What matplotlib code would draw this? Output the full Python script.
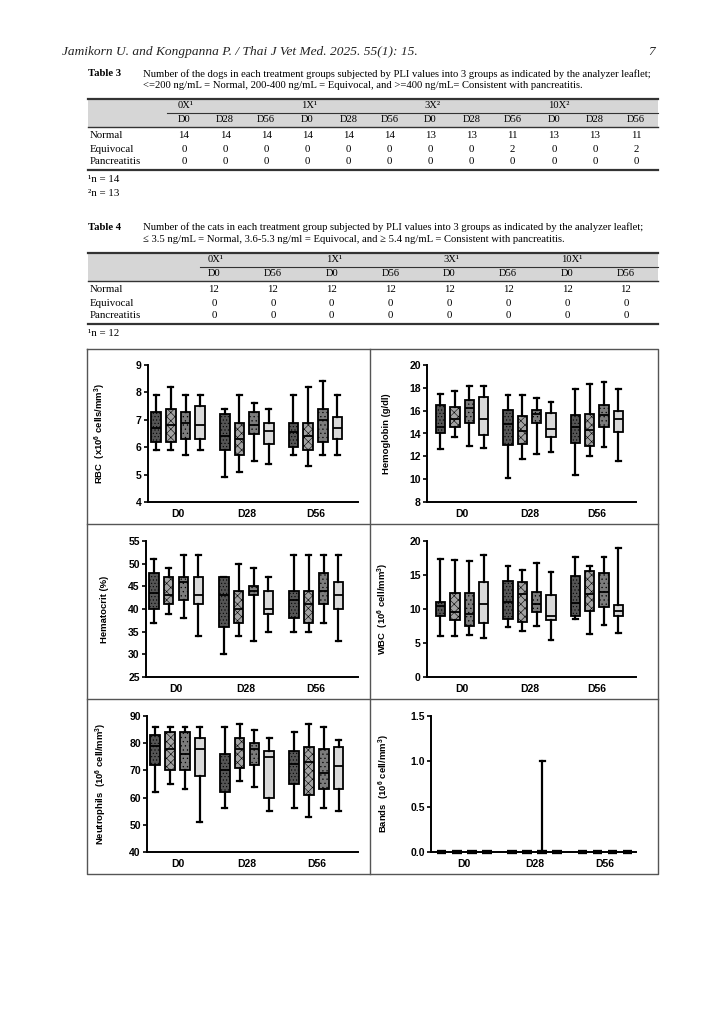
import numpy as np
import matplotlib
matplotlib.use('Agg')
import matplotlib.pyplot as plt
from matplotlib.patches import Rectangle

W, H = 724, 1024

# ---------------- datos de las tablas ----------------
t3_grupos = ['0X¹', '1X¹', '3X²', '10X²']
t3_dias = ['D0', 'D28', 'D56']
t3_filas = ['Normal', 'Equivocal', 'Pancreatitis']
t3_normal = [14, 14, 14, 14, 14, 14, 13, 13, 11, 13, 13, 11]
t3_equivocal = [0, 0, 0, 0, 0, 0, 0, 0, 2, 0, 0, 2]
t3_pancreatitis = [0, 0, 0, 0, 0, 0, 0, 0, 0, 0, 0, 0]

t4_grupos = ['0X¹', '1X¹', '3X¹', '10X¹']
t4_dias = ['D0', 'D56']
t4_normal = [12, 12, 12, 12, 12, 12, 12, 12]
t4_equivocal = [0, 0, 0, 0, 0, 0, 0, 0]
t4_pancreatitis = [0, 0, 0, 0, 0, 0, 0, 0]

# ---------------- datos de los boxplots ----------------
# cada caja: (min, q1, mediana, q3, max); 4 cajas por dia (D0, D28, D56)
dias = ['D0', 'D28', 'D56']

rbc = [(5.9, 6.2, 6.7, 7.3, 7.9), (5.9, 6.2, 6.8, 7.4, 8.2), (5.7, 6.3, 6.9, 7.3, 7.9), (5.9, 6.3, 6.8, 7.5, 7.9),
       (4.9, 5.9, 6.4, 7.2, 7.4), (5.1, 5.7, 6.3, 6.9, 7.9), (5.5, 6.5, 6.8, 7.3, 7.6), (5.4, 6.1, 6.6, 6.9, 7.4),
       (5.7, 6.0, 6.55, 6.9, 7.9), (5.3, 5.9, 6.4, 6.9, 8.2), (5.7, 6.2, 7.0, 7.4, 8.4), (5.7, 6.3, 6.7, 7.1, 7.9)]

hemoglobina = [(12.6, 14.0, 14.6, 16.5, 17.5), (13.7, 14.6, 15.3, 16.3, 17.7), (12.9, 14.9, 16.2, 16.9, 18.2), (12.7, 13.9, 15.3, 17.2, 18.2),
               (10.1, 13.0, 14.8, 16.1, 17.4), (11.8, 13.1, 14.2, 15.5, 17.4), (12.2, 14.9, 15.7, 16.1, 17.1), (12.4, 13.7, 14.4, 15.8, 16.8),
               (10.4, 13.2, 14.6, 15.6, 17.9), (12.0, 12.9, 14.3, 15.7, 18.3), (12.8, 14.6, 15.6, 16.5, 18.5), (11.6, 14.1, 15.3, 16.0, 17.9)]

hematocrito = [(37, 40, 43.5, 48, 51), (39, 41, 43, 47, 49), (38, 42, 46, 47, 52), (34, 41, 43, 47, 52),
               (30, 36, 43, 47, 47), (34, 37, 40, 44, 50), (33, 43, 44, 45, 49), (35, 39, 40, 44, 47),
               (35, 38, 42, 44, 52), (35, 37, 41, 44, 52), (37, 41, 44, 48, 52), (33, 40, 43, 46, 52)]

wbc = [(6.0, 8.9, 10.5, 11.1, 17.3), (6.1, 8.4, 9.5, 12.3, 17.2), (6.2, 7.5, 9.2, 12.3, 17.0), (5.8, 8.0, 10.7, 13.9, 17.9),
       (7.4, 8.5, 11.1, 14.1, 16.3), (6.7, 8.1, 12.2, 13.9, 15.7), (7.5, 9.6, 10.8, 12.5, 16.7), (5.5, 8.4, 8.9, 12.1, 15.5),
       (8.5, 9.0, 10.9, 14.8, 17.6), (6.3, 9.7, 12.2, 15.6, 16.3), (7.7, 10.3, 12.5, 15.3, 17.6), (6.4, 9.0, 9.7, 10.6, 18.9)]

neutrofilos = [(62, 72, 79, 83, 86), (65, 70, 78, 84, 86), (63, 70, 76, 84, 86), (51, 68, 78, 82, 86),
               (56, 62, 70, 76, 86), (66, 71, 78, 82, 87), (64, 72, 78, 80, 85), (55, 60, 75, 77, 82),
               (56, 65, 72.5, 77, 84), (53, 61, 73, 78.5, 87), (56, 63, 69, 78, 86), (55, 63, 71.5, 78.5, 81)]

bandas = [(0, 0, 0, 0, 0), (0, 0, 0, 0, 0), (0, 0, 0, 0, 0), (0, 0, 0, 0, 0),
          (0, 0, 0, 0, 0), (0, 0, 0, 0, 0), (0, 0, 0, 0, 1.0), (0, 0, 0, 0, 0),
          (0, 0, 0, 0, 0), (0, 0, 0, 0, 0), (0, 0, 0, 0, 0), (0, 0, 0, 0, 0)]

plt.rcParams['mathtext.fontset'] = 'custom'
plt.rcParams['mathtext.bf'] = 'Liberation Sans:bold'
plt.rcParams['mathtext.rm'] = 'Liberation Sans'
plt.rcParams['mathtext.default'] = 'bf'
plt.rcParams['hatch.linewidth'] = 0.4

fig = plt.figure(figsize=(W / 100, H / 100), dpi=100)
fig.patch.set_facecolor('white')

# ejes de pagina en pixeles
pag = fig.add_axes([0, 0, 1, 1])
pag.set_xlim(0, W)
pag.set_ylim(H, 0)
pag.axis('off')

serif = 'Liberation Serif'
pag.text(62, 52, 'Jamikorn U. and Kongpanna P. / Thai J Vet Med. 2025. 55(1): 15.', family=serif,
         style='italic', fontsize=9.6, va='center', ha='left', color='#222222')
pag.text(655, 52, '7', family=serif, style='italic', fontsize=9.6, va='center', ha='right', color='#222222')


def tabla(y_tit, titulo, linea1, linea2, y_top, grupos, dias_t, cols_x, x_sep, filas, notas):
    pag.text(88, y_tit, titulo, family=serif, weight='bold', fontsize=7.7, va='center')
    pag.text(143, y_tit, linea1, family=serif, fontsize=7.65, va='center')
    pag.text(143, y_tit + 12, linea2, family=serif, fontsize=7.65, va='center')
    y_sep = y_top + 14
    y_hdr = y_top + 28
    pag.add_patch(Rectangle((88, y_top), 570, y_hdr - y_top, color='#d6d6d6', lw=0))
    pag.plot([88, 658], [y_top, y_top], color='#333333', lw=1.6)
    pag.plot([x_sep, 658], [y_sep, y_sep], color='#333333', lw=0.8)
    pag.plot([88, 658], [y_hdr, y_hdr], color='#333333', lw=1.0)
    n = len(dias_t)
    for i, g in enumerate(grupos):
        pag.text(cols_x[i * n] - 6, y_top + 7, g, family=serif, fontsize=7.6, va='center', ha='left')
    for j, x in enumerate(cols_x):
        pag.text(x, y_top + 21, dias_t[j % n], family=serif, fontsize=7.6, va='center', ha='center')
    y = y_hdr + 9
    for nombre, valores in filas:
        pag.text(90, y, nombre, family=serif, fontsize=7.8, va='center')
        for x, v in zip(cols_x, valores):
            pag.text(x, y, str(v), family=serif, fontsize=7.8, va='center', ha='center')
        y += 13
    y_fin = y - 5
    pag.plot([88, 658], [y_fin, y_fin], color='#333333', lw=1.6)
    for k, nota in enumerate(notas):
        pag.text(88, y_fin + 10 + 14 * k, nota, family=serif, fontsize=7.8, va='center')


x_t3 = list(np.linspace(184, 636, 12))
tabla(74, 'Table 3',
      'Number of the dogs in each treatment groups subjected by PLI values into 3 groups as indicated by the analyzer leaflet;',
      '<=200 ng/mL = Normal, 200-400 ng/mL = Equivocal, and >=400 ng/mL= Consistent with pancreatitis.',
      99, t3_grupos, t3_dias, x_t3, 167,
      [(t3_filas[0], t3_normal), (t3_filas[1], t3_equivocal), (t3_filas[2], t3_pancreatitis)],
      ['¹n = 14', '²n = 13'])

x_t4 = list(np.linspace(214, 626, 8))
tabla(227, 'Table 4',
      'Number of the cats in each treatment group subjected by PLI values into 3 groups as indicated by the analyzer leaflet;',
      '≤ 3.5 ng/mL = Normal, 3.6-5.3 ng/ml = Equivocal, and ≥ 5.4 ng/mL = Consistent with pancreatitis.',
      253, t4_grupos, t4_dias, x_t4, 200,
      [(t3_filas[0], t4_normal), (t3_filas[1], t4_equivocal), (t3_filas[2], t4_pancreatitis)],
      ['¹n = 12'])

# marco de los paneles
for xs, ys in [([87, 658, 658, 87, 87], [349, 349, 874, 874, 349]), ([370, 370], [349, 874]),
               ([87, 658], [524, 524]), ([87, 658], [699, 699])]:
    pag.plot(xs, ys, color='#555555', lw=1.0)

# ---------------- boxplots ----------------
rellenos = ['#555555', '#a3a3a3', '#7c7c7c', '#d9d9d9']
tramas = ['.....', 'xxxx', '....', '']
desplaz = [-0.32, -0.107, 0.107, 0.32]


def panel(px, ylim, yticks, ytlabels, datos, etiqueta, xlim, lab_x, grosor=1.3):
    x0, yt, x1, yb = px
    ax = fig.add_axes([x0 / W, 1 - yb / H, (x1 - x0) / W, (yb - yt) / H])
    stats = []
    pos = []
    for i, (lo, q1, me, q3, hi) in enumerate(datos):
        stats.append(dict(whislo=lo, q1=q1, med=me, q3=q3, whishi=hi, fliers=[]))
        pos.append(i // 4 + desplaz[i % 4])
    bp = ax.bxp(stats, positions=pos, widths=0.14, patch_artist=True, showfliers=False,
                boxprops=dict(linewidth=grosor, edgecolor='black'),
                medianprops=dict(color='black', linewidth=grosor),
                whiskerprops=dict(color='black', linewidth=1.6),
                capprops=dict(color='black', linewidth=1.6), capwidths=0.07)
    for i, caja in enumerate(bp['boxes']):
        caja.set_facecolor(rellenos[i % 4])
        caja.set_hatch(tramas[i % 4])
        caja.set_clip_on(False)
    for m in bp['medians']:
        m.set_clip_on(False)
    ax.set_xlim(*xlim)
    ax.set_ylim(*ylim)
    ax.set_yticks(yticks)
    ax.set_yticklabels(ytlabels)
    ax.set_xticks([0, 1, 2])
    ax.set_xticklabels(dias)
    for s in ['top', 'right']:
        ax.spines[s].set_visible(False)
    for s in ['left', 'bottom']:
        ax.spines[s].set_linewidth(1.4)
    ax.tick_params(axis='y', length=3, width=1.2, pad=1.5)
    ax.tick_params(axis='x', length=0, pad=5)
    for t in ax.get_xticklabels() + ax.get_yticklabels():
        t.set_fontfamily('Liberation Sans')
        t.set_fontweight('bold')
        t.set_fontsize(7.5)
    ax.set_ylabel(etiqueta, family='Liberation Sans', weight='bold', fontsize=6.8)
    ax.yaxis.set_label_coords(lab_x, 0.5)
    ax.set_facecolor('none')
    return ax


panel((148, 365, 358, 502), (4, 9), [4, 5, 6, 7, 8, 9], ['4', '5', '6', '7', '8', '9'], rbc,
      r'RBC  (x10$^6$ cells/mm$^3$)', (-0.44, 2.62), -0.19)
panel((427, 365, 636, 502), (8, 20), [8, 10, 12, 14, 16, 18, 20], ['8', '10', '12', '14', '16', '18', '20'],
      hemoglobina, 'Hemoglobin (g/dl)', (-0.52, 2.58), -0.17)
panel((146, 541, 358, 677), (25, 55), [25, 30, 35, 40, 45, 50, 55], ['25', '30', '35', '40', '45', '50', '55'],
      hematocrito, 'Hematocrit (%)', (-0.43, 2.6), -0.175)
panel((427, 541, 636, 677), (0, 20), [0, 5, 10, 15, 20], ['0', '5', '10', '15', '20'], wbc,
      r'WBC  (10$^6$ cell/mm$^3$)', (-0.52, 2.58), -0.17)
panel((147, 716, 358, 852), (40, 90), [40, 50, 60, 70, 80, 90], ['40', '50', '60', '70', '80', '90'],
      neutrofilos, r'Neutrophils  (10$^6$ cell/mm$^3$)', (-0.44, 2.6), -0.18)
panel((431, 716, 636, 852), (0, 1.5), [0, 0.5, 1.0, 1.5], ['0.0', '0.5', '1.0', '1.5'], bandas,
      r'Bands  (10$^6$ cell/mm$^3$)', (-0.47, 2.44), -0.19, grosor=3.0)

fig.savefig('out.png', dpi=100, facecolor='white')
